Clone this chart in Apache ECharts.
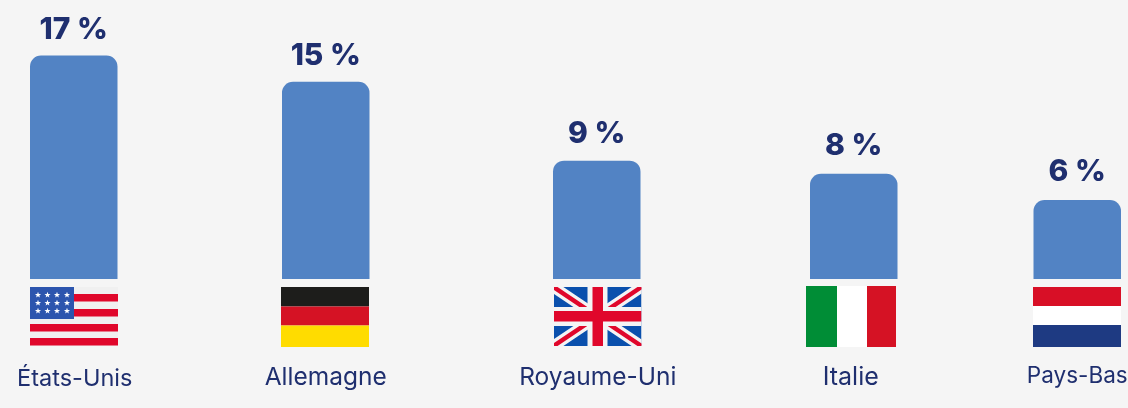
<!DOCTYPE html>
<html><head><meta charset="utf-8">
<style>html,body{margin:0;padding:0;background:#f5f5f5}#c{width:1128px;height:408px}</style>
<script src="https://cdn.jsdelivr.net/npm/echarts@6/dist/echarts.min.js"></script>
</head><body><div id="c"></div>
<script>
const categories = ['États-Unis','Allemagne','Royaume-Uni','Italie','Pays-Bas'];
const shares = [17,15,9,8,6];

// layout only
const TEXT='#1f2f6f', BAR='#5283c4', FONT='Inter, "Noto Sans", sans-serif';
const slotLeft=[30,282,553,810,1033.5];
const slotWidth=87.5;
const labelMargin=[88,86,86,86,86];
const labelSize=[23.5,24.5,24.5,25,22.5];
const labelShift=[1,0,1,-3,0];
const valueDistance=[10,11,12,13,13];

function rect(x,y,w,h,f){return `<rect x="${x}" y="${y}" width="${w}" height="${h}" fill="${f}"/>`;}
function star(cx,cy,r){
  let p=[];
  for(let k=0;k<10;k++){
    const a=-Math.PI/2+k*Math.PI/5, q=k%2?r*0.42:r;
    p.push((cx+q*Math.cos(a)).toFixed(2)+','+(cy+q*Math.sin(a)).toFixed(2));
  }
  return `<polygon points="${p.join(' ')}" fill="#fff"/>`;
}
function usFlag(){
  let s=rect(0,0,88,59,'#f0f0f0');
  [7,22,37,51].forEach(y=>s+=rect(0,y,88,7.5,'#e0072b'));
  s+=rect(0,0,44,32,'#2c55ae');
  [8,17.5,27,37].forEach(x=>[8,16,24].forEach(y=>{s+=star(x,y,3.2);}));
  return {x:30,y:287,w:88,h:59,s};
}
function deFlag(){return {x:281,y:287,w:88,h:60,s:rect(0,0,88,19.5,'#1d1d1b')+rect(0,19.5,88,19,'#d51224')+rect(0,38.5,88,21.5,'#ffdc00')};}
function ukFlag(){
  let s=rect(0,0,88,59,'#0a50ad');
  s+=`<path d="M0 0L88 59M88 0L0 59" stroke="#f4f4f4" stroke-width="11"/>`;
  s+=`<path d="M0 0L88 59M88 0L0 59" stroke="#e0072b" stroke-width="4.5"/>`;
  s+=rect(34,0,20,59,'#f4f4f4')+rect(0,20,88,19,'#f4f4f4');
  s+=rect(39,0,10.5,59,'#e0072b')+rect(0,24,88,10.5,'#e0072b');
  return {x:553.5,y:287,w:88,h:59,s};
}
function itFlag(){return {x:806,y:286,w:90,h:61,s:rect(0,0,31,61,'#008d36')+rect(31,0,30,61,'#ffffff')+rect(61,0,29,61,'#d51224')};}
function nlFlag(){return {x:1033,y:287,w:88,h:60,s:rect(0,0,88,19,'#d80f26')+rect(0,19,88,19,'#ffffff')+rect(0,38,88,22,'#1e3a82')};}

const flags=[usFlag(),deFlag(),ukFlag(),itFlag(),nlFlag()].map(f=>({
  type:'image',x:f.x,y:f.y,silent:true,
  style:{width:f.w,height:f.h,x:0,y:0,
    image:'data:image/svg+xml;charset=utf-8,'+encodeURIComponent(`<svg xmlns="http://www.w3.org/2000/svg" width="${f.w}" height="${f.h}" viewBox="0 0 ${f.w} ${f.h}">${f.s}</svg>`)}
}));

const chart=echarts.init(document.getElementById('c'),null,{renderer:'canvas'});
chart.setOption({
  animation:false,
  backgroundColor:'#f5f5f5',
  textStyle:{fontFamily:FONT},
  grid:categories.map((c,i)=>({left:slotLeft[i],width:slotWidth,top:16,height:263,containLabel:false,outerBoundsMode:'none'})),
  xAxis:categories.map((c,i)=>({
    type:'category',gridIndex:i,data:[c],
    axisLine:{show:false},axisTick:{show:false},
    axisLabel:{color:TEXT,fontSize:labelSize[i],fontFamily:FONT,margin:labelMargin[i],
      interval:0,hideOverlap:false,overflow:'none',width:200,
      padding:[0,0,0,labelShift[i]*2]}
  })),
  yAxis:categories.map((c,i)=>({type:'value',gridIndex:i,min:0,max:20,show:false})),
  series:categories.map((c,i)=>({
    type:'bar',xAxisIndex:i,yAxisIndex:i,data:[shares[i]],barWidth:'100%',
    itemStyle:{color:BAR,borderRadius:[11,11,0,0]},
    label:{show:true,position:'top',distance:valueDistance[i],formatter:p=>p.value+' %',
      color:'#1f2f6f',fontSize:30,fontWeight:800,fontFamily:FONT},
    silent:true
  })),
  graphic:flags
});
</script></body></html>
